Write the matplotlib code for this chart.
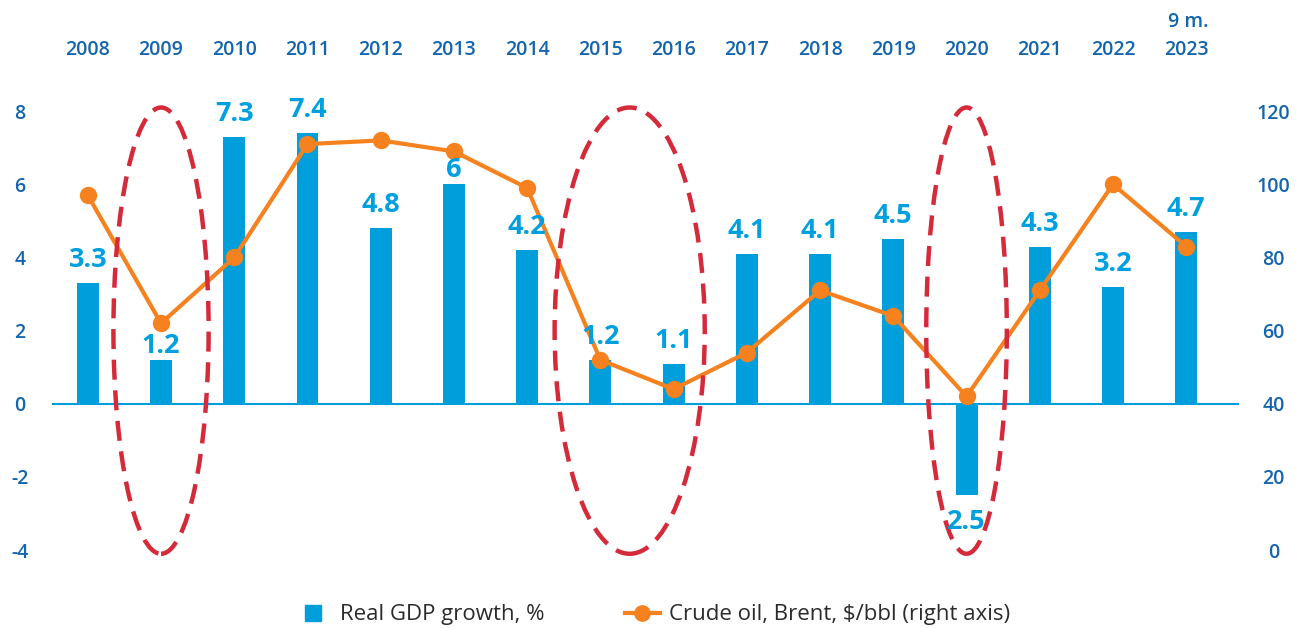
import matplotlib
matplotlib.use("Agg")
import matplotlib.pyplot as plt
from matplotlib.patches import Ellipse
from matplotlib.lines import Line2D

years = ["2008", "2009", "2010", "2011", "2012", "2013", "2014", "2015",
         "2016", "2017", "2018", "2019", "2020", "2021", "2022", "9 m.\n2023"]
gdp_growth = [3.3, 1.2, 7.3, 7.4, 4.8, 6, 4.2, 1.2, 1.1, 4.1, 4.1, 4.5, -2.5, 4.3, 3.2, 4.7]
gdp_labels = ["3.3", "1.2", "7.3", "7.4", "4.8", "6", "4.2", "1.2", "1.1", "4.1",
              "4.1", "4.5", "2.5", "4.3", "3.2", "4.7"]
brent = [97, 62, 80, 111, 112, 109, 99, 52, 44, 54, 71, 64, 42, 71, 100, 83]

# crisis periods circled on the chart: (center index, width in categories)
crisis_marks = [(1, 1.3), (7.4, 2.05), (12, 1.1)]

BAR_BLUE = "#009fdb"
TICK_BLUE = "#1465ad"
ORANGE = "#f5821f"
RED = "#d42a3a"

plt.rcParams["font.family"] = ["Open Sans", "DejaVu Sans"]
plt.rcParams["axes.unicode_minus"] = False

fig = plt.figure(figsize=(12.98, 6.28), dpi=100)
ax = fig.add_axes([0.040, 0.124, 0.9145, 0.699])
ax2 = ax.twinx()

x = list(range(len(years)))
ax.bar(x, gdp_growth, width=0.3, color=BAR_BLUE, zorder=2)
ax.axhline(0, color=BAR_BLUE, lw=1.5, zorder=1)
ax.set_xlim(-0.49, 15.72)
ax.set_ylim(-4, 8)
ax.set_yticks([-4, -2, 0, 2, 4, 6, 8])

ax2.plot(x, brent, color=ORANGE, lw=3, marker="o", markersize=11.5, zorder=3)
ax2.set_ylim(0, 120)
ax2.set_yticks([0, 20, 40, 60, 80, 100, 120])

# top category labels
ax.xaxis.tick_top()
ax.set_xticks(x)
ax.set_xticklabels(years)
ax.tick_params(axis="x", length=0, pad=37, labelsize=14, labelcolor=TICK_BLUE)
for lbl in ax.get_xticklabels():
    lbl.set_fontweight("semibold")
    lbl.set_multialignment("right")
    lbl.set_linespacing(1.5)
ax2.tick_params(axis="x", length=0, labeltop=False, labelbottom=False)

ax.tick_params(axis="y", length=0, pad=23, labelsize=14, labelcolor=TICK_BLUE)
for lbl in ax.get_yticklabels():
    lbl.set_fontweight("semibold")
    lbl.set_horizontalalignment("center")
ax2.tick_params(axis="y", length=0, pad=25, labelsize=14, labelcolor=TICK_BLUE)
for lbl in ax2.get_yticklabels():
    lbl.set_fontweight("semibold")
    lbl.set_horizontalalignment("center")

for a in (ax, ax2):
    for s in a.spines.values():
        s.set_visible(False)

# dashed ellipses around the crisis years (on top of the line)
for cx, w in crisis_marks:
    e = Ellipse((cx, 60), width=w, height=122, fill=False, edgecolor=RED,
                lw=3.2, linestyle=(0, (4.5, 2.4)), zorder=4, clip_on=False)
    ax2.add_patch(e)

# value labels (2009 and 2013 sit tight on their bars to keep clear of the line)
for xi, v, txt in zip(x, gdp_growth, gdp_labels):
    if v < 0:
        off = -10
    elif years[xi] in ("2009", "2013"):
        off = 1
    else:
        off = 7
    ax2.annotate(txt, xy=(xi, v), xycoords=ax.transData, xytext=(0, off),
                 textcoords="offset points", ha="center",
                 va="bottom" if v >= 0 else "top",
                 fontsize=19.5, fontweight="bold", color="#00a0e0", zorder=5)

handles = [
    Line2D([], [], color=BAR_BLUE, marker="s", linestyle="none", markersize=12),
    Line2D([], [], color=ORANGE, lw=3, marker="o", markersize=11),
]
fig.legend(handles, ["Real GDP growth, %", "Crude oil, Brent, $/bbl (right axis)"],
           loc="center", bbox_to_anchor=(0.503, 0.021), ncol=2, frameon=False,
           prop={"size": 16, "weight": "medium"}, labelcolor="#2b2b2b",
           handlelength=1.6, columnspacing=3.6, handletextpad=0.4)

fig.savefig("out.png", dpi=100)
